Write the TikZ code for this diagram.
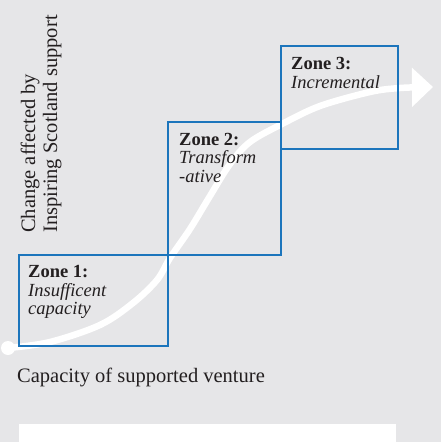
\documentclass[tikz,border=0pt]{standalone}
\usepackage{fontspec}
\setmainfont{Liberation Serif}
\usetikzlibrary{arrows.meta}
\definecolor{bg}{HTML}{E6E6E8}
\definecolor{zblue}{HTML}{1C75BC}
\definecolor{ink}{HTML}{231F20}
\begin{document}
\begin{tikzpicture}[x=1pt,y=-1pt,
  zbox/.style={draw=zblue, line width=2.5pt, inner sep=0pt, outer sep=0pt},
  lbl/.style={text=ink, inner sep=0pt, anchor=base west, font=\fontsize{18.5}{18.5}\selectfont},
  axislbl/.style={text=ink, inner sep=0pt, anchor=base west, font=\fontsize{20.5}{22}\selectfont}]
\useasboundingbox (0,0) rectangle (441,442);
\fill[bg] (0,0) rectangle (441,442);
\fill[white] (19,424) rectangle (396,442);
% growth curve
\draw[white, line width=6.5pt, -{Triangle[length=21pt,width=38pt]}]
  plot[smooth, tension=0.55] coordinates {(8,348) (50,342) (100,325) (133,303) (157,280) (170,258) (190,229) (210,196) (230,164) (250,142) (282,124) (320,106) (370,92) (400,88) (433,87)};
\fill[white] (8,348) circle[radius=7pt];
% zones
\node[zbox, minimum width=149pt, minimum height=91pt] (z1) at (93.5,300.5) {};
\node[zbox, minimum width=113pt, minimum height=133pt] (z2) at (224.5,188.5) {};
\node[zbox, minimum width=117pt, minimum height=103pt] (z3) at (339.5,97.5) {};
% zone labels
\node[lbl] (z1a) at (28,277) {\bfseries Zone 1:};
\node[lbl] (z1b) at (28,296) {\itshape Insufficent};
\node[lbl] (z1c) at (28,314) {\itshape capacity};
\node[lbl] (z2a) at (179,145) {\bfseries Zone 2:};
\node[lbl] (z2b) at (179,163) {\itshape Transform};
\node[lbl] (z2c) at (179,182) {\itshape -ative};
\node[lbl] (z3a) at (291,69) {\bfseries Zone 3:};
\node[lbl] (z3b) at (291,88) {\itshape Incremental};
% axis labels
\node[axislbl, rotate=90] (yl1) at (35,233) {Change affected by};
\node[axislbl, rotate=90] (yl2) at (57,233) {Inspiring Scotland support};
\node[axislbl] (xl) at (17,382) {Capacity of supported venture};
\end{tikzpicture}
\end{document}
